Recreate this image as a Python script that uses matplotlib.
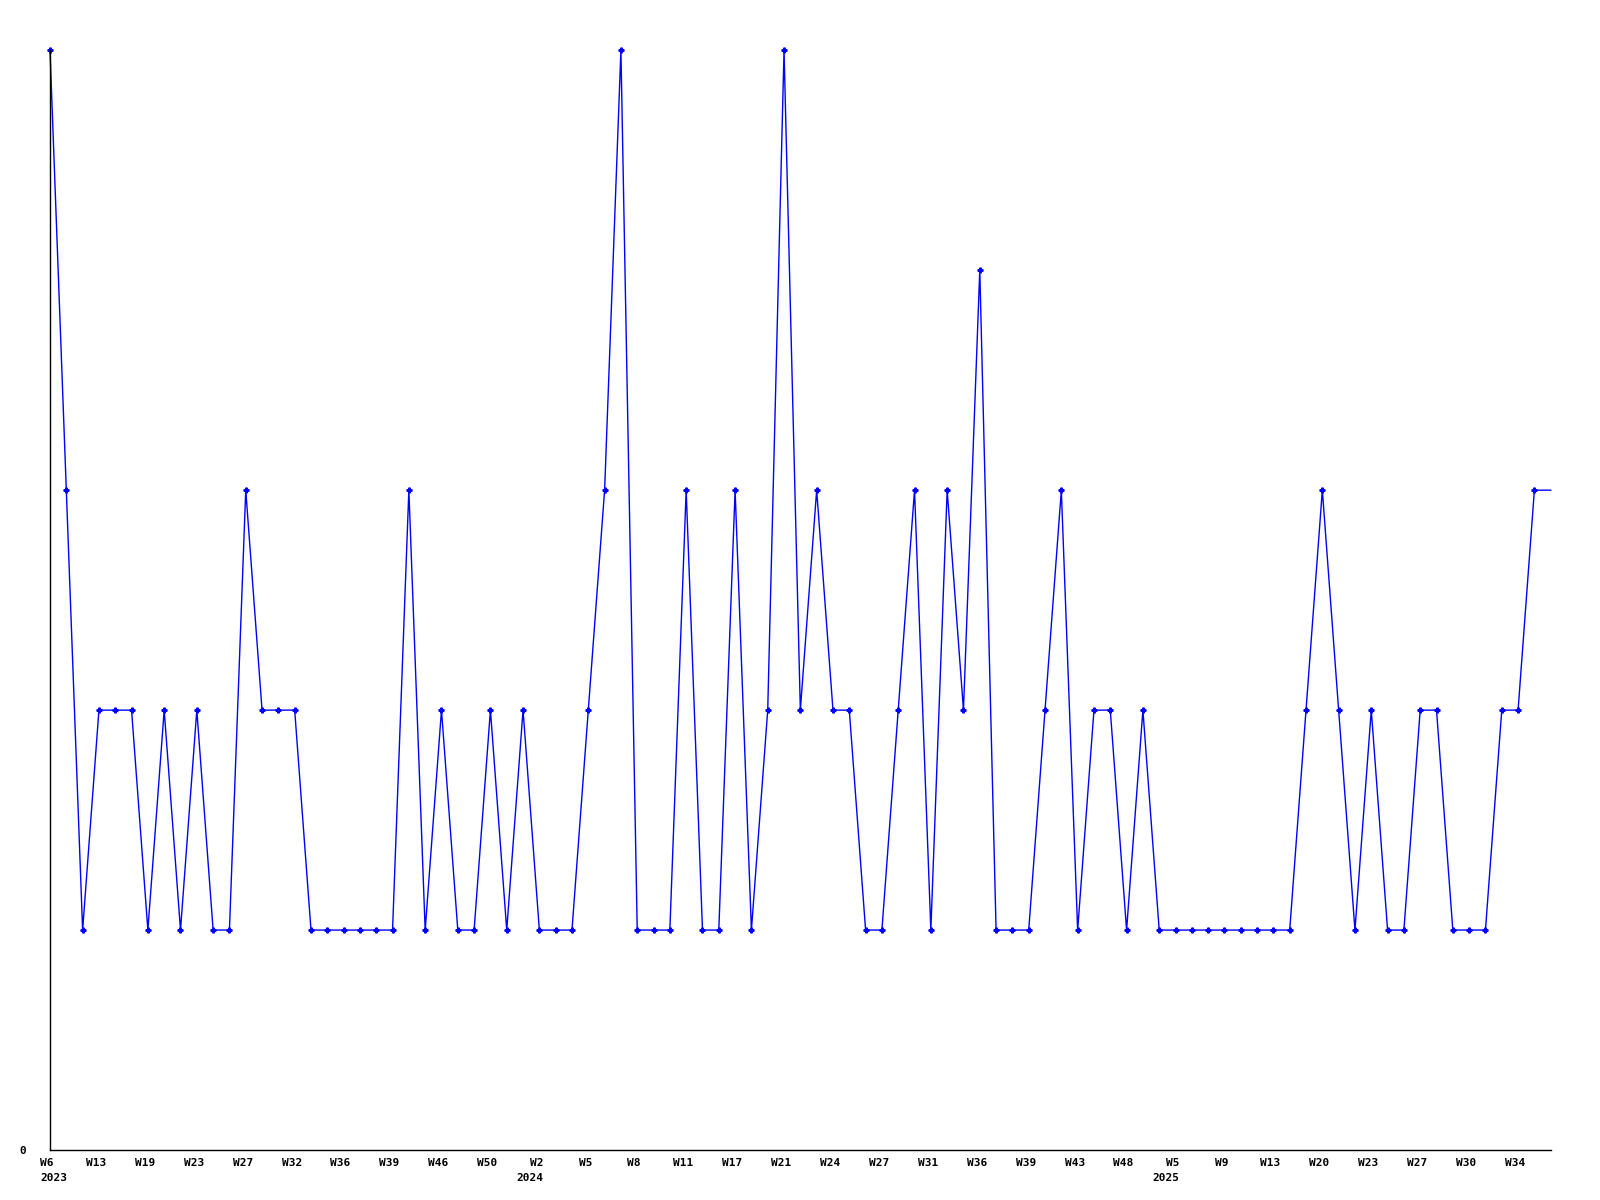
import matplotlib
matplotlib.use("Agg")
import matplotlib.pyplot as plt
from matplotlib.transforms import ScaledTranslation

# weekly counts, one per data point (last one is the current week, drawn to the edge)
values = [5, 3, 1, 2, 2, 2, 1, 2, 1, 2, 1, 1, 3, 2, 2, 2, 1, 1, 1, 1,
          1, 1, 3, 1, 2, 1, 1, 2, 1, 2, 1, 1, 1, 2, 3, 5, 1, 1, 1, 3,
          1, 1, 3, 1, 2, 5, 2, 3, 2, 2, 1, 1, 2, 3, 1, 3, 2, 4, 1, 1,
          1, 2, 3, 1, 2, 2, 1, 2, 1, 1, 1, 1, 1, 1, 1, 1, 1, 2, 3, 2,
          1, 2, 1, 1, 2, 2, 1, 1, 1, 2, 2, 3, 3]

# every third point carries a week label
week_labels = ["W6", "W13", "W19", "W23", "W27", "W32", "W36", "W39", "W46", "W50",
               "W2", "W5", "W8", "W11", "W17", "W21", "W24", "W27", "W31", "W36",
               "W39", "W43", "W48", "W5", "W9", "W13", "W20", "W23", "W27", "W30", "W34"]
year_labels = {0: "2023", 10: "2024", 23: "2025"}

FONT = dict(family="DejaVu Sans Mono", fontweight="bold", fontsize=8)

fig = plt.figure(figsize=(16, 12), dpi=100)
ax = fig.add_axes([50 / 1600, 50 / 1200, 1500.7 / 1600, 1099.7 / 1200])

x = list(range(len(values)))
ax.plot(x, values, color="#0000ff", linewidth=1.0, marker="P", markersize=3.5,
        markevery=list(range(len(values) - 1)), clip_on=False)

ax.set_xlim(0, len(values) - 1)
ax.set_ylim(0, 5)

for side in ("top", "right"):
    ax.spines[side].set_visible(False)
ax.spines["left"].set_linewidth(1.0)
ax.spines["bottom"].set_linewidth(1.0)

ticks = list(range(0, len(values), 3))[:len(week_labels)]
ax.set_xticks(ticks)
ax.set_xticklabels(week_labels, **FONT)
ax.tick_params(axis="x", length=0, pad=6)
shift = ScaledTranslation(-3 / 100, 0, fig.dpi_scale_trans)
for lab in ax.get_xticklabels():
    lab.set_transform(lab.get_transform() + shift)

ax.set_yticks([0])
ax.set_yticklabels(["0"], **FONT)
ax.tick_params(axis="y", length=0, pad=17)

char_w = 0.6 * 8  # points per char in mono font
for i, yr in year_labels.items():
    half = len(week_labels[i]) * char_w / 2
    if i == 0:
        off, ha = -half - 2.2, "left"
    else:
        off, ha = half - 2.2, "right"
    ax.annotate(yr, xy=(ticks[i], 0), xycoords="data",
                xytext=(off, -16.5), textcoords="offset points",
                ha=ha, va="top", annotation_clip=False, **FONT)

fig.savefig("out.png", dpi=100)
